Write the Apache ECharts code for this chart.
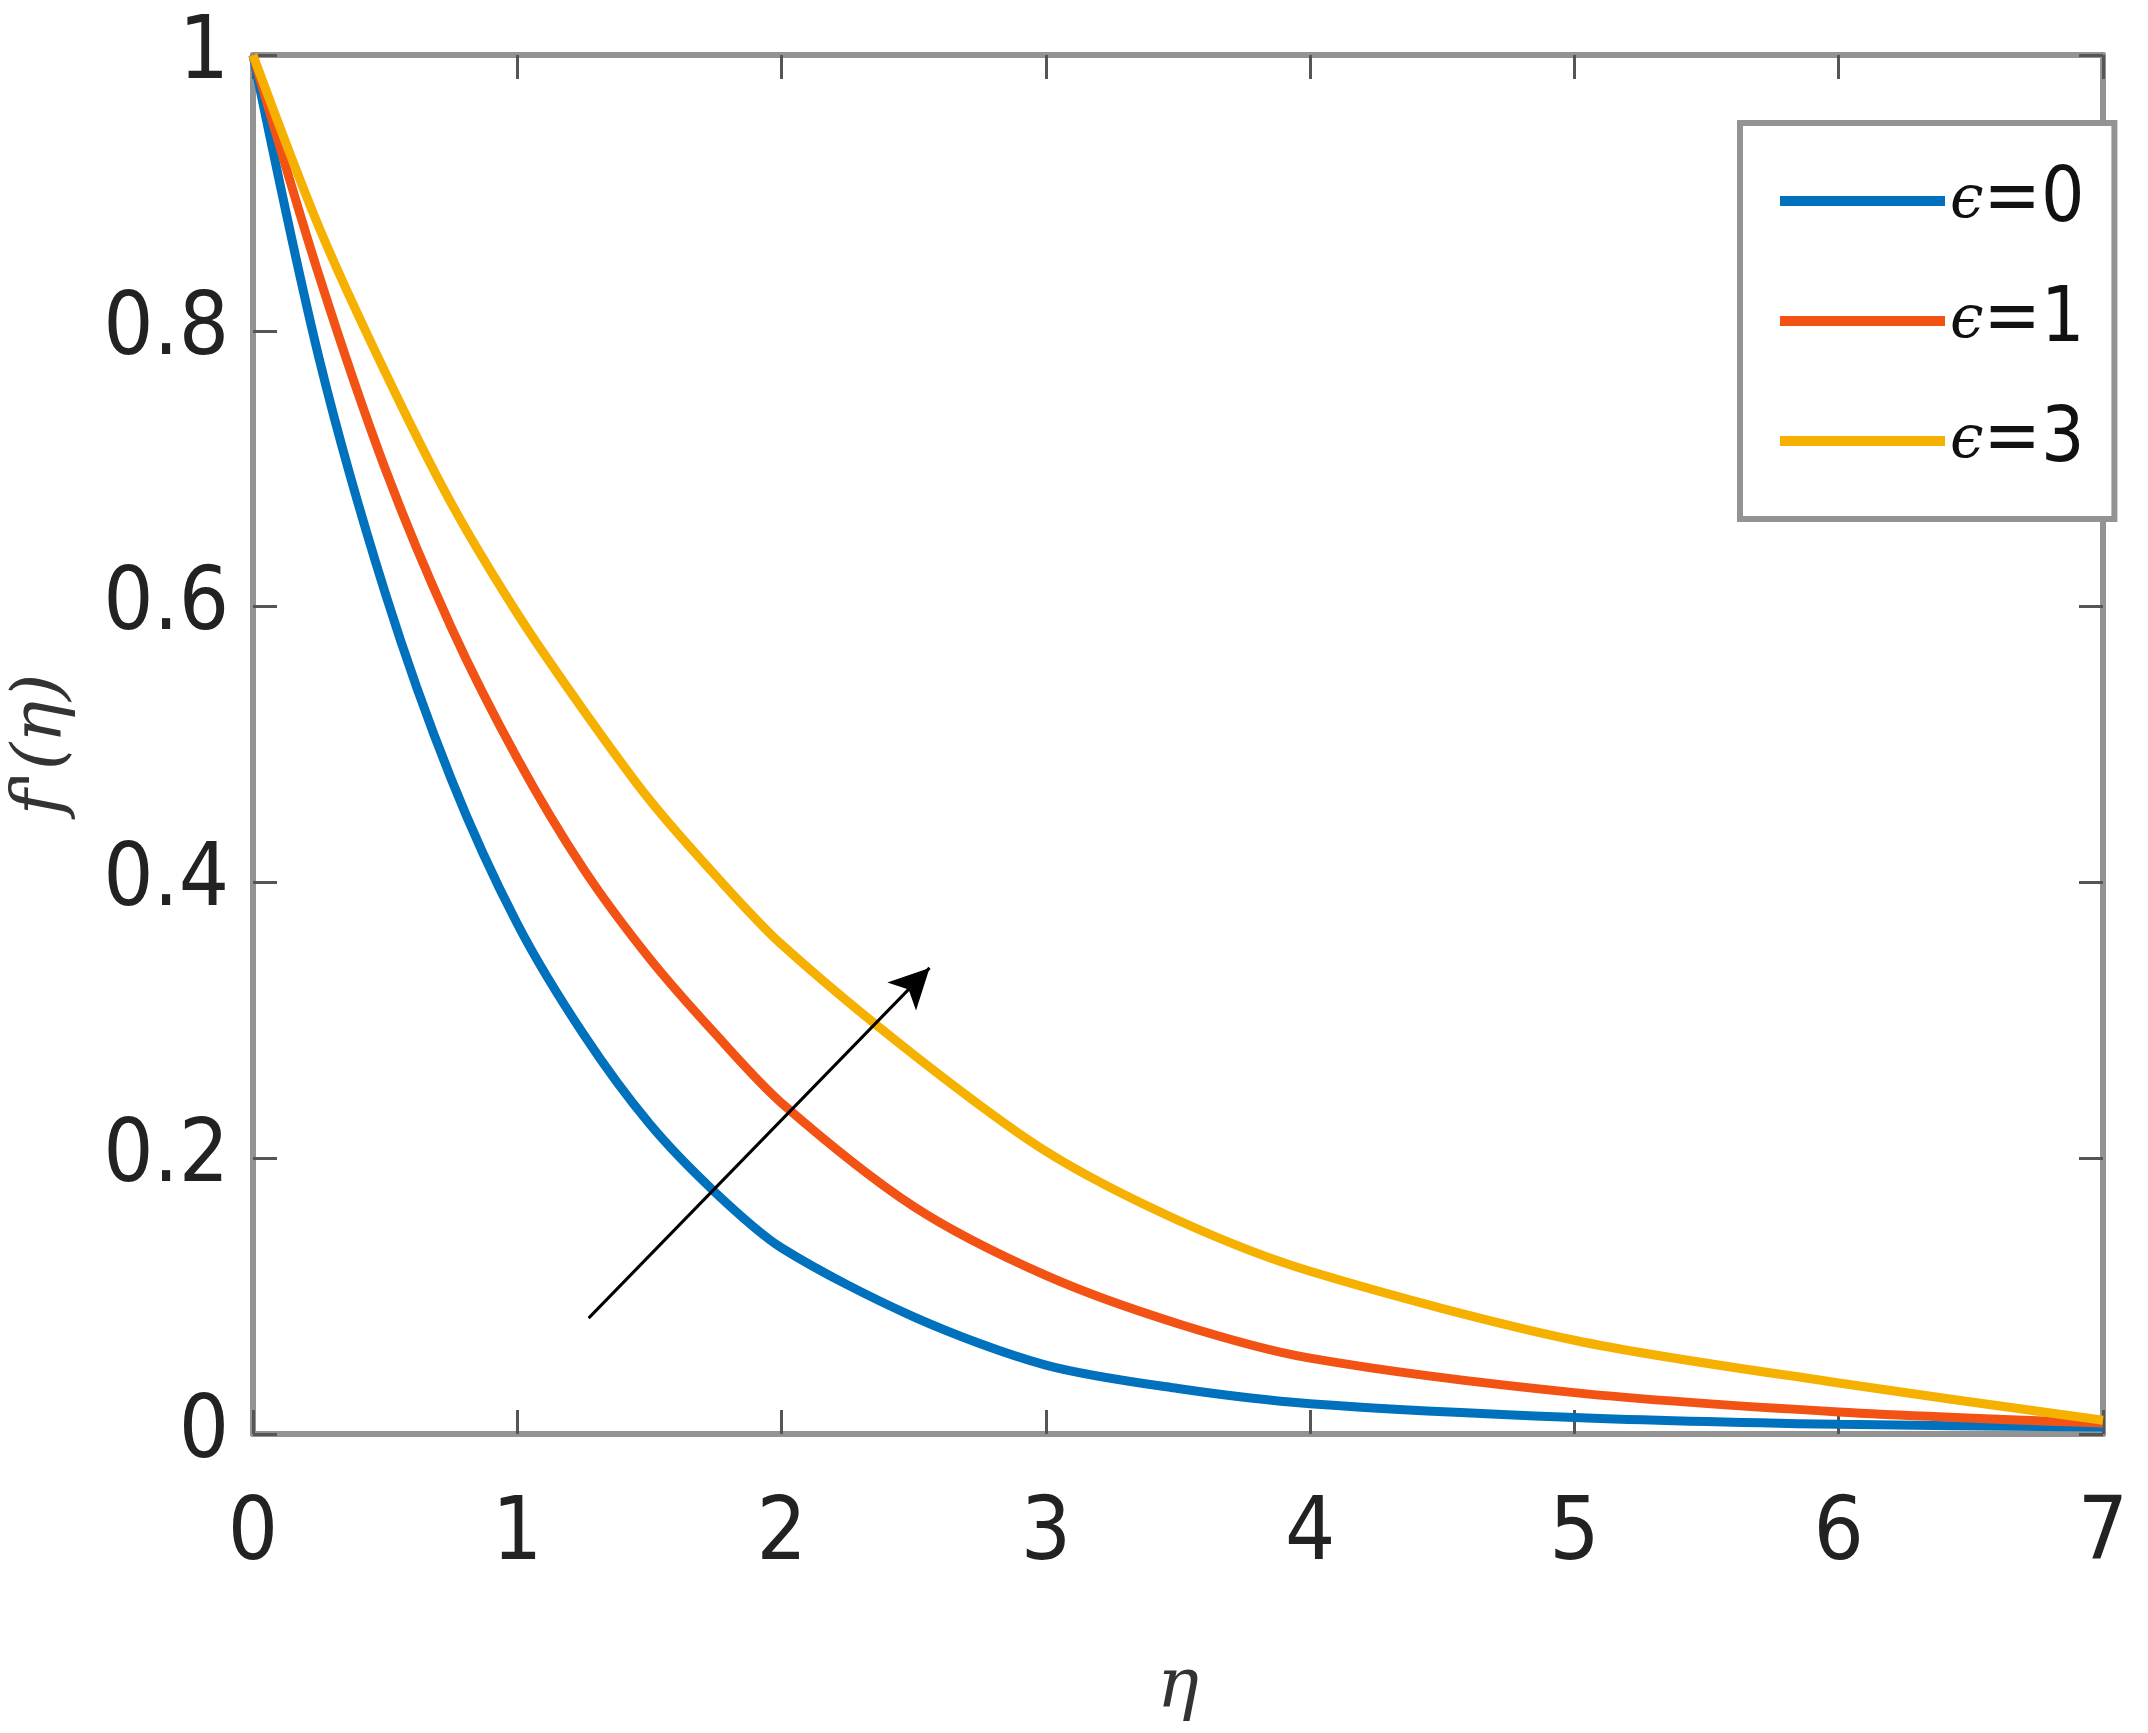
<!DOCTYPE html>
<html>
<head>
<meta charset="utf-8">
<title>f'(eta)</title>
<script src="https://cdn.jsdelivr.net/npm/echarts@6/dist/echarts.min.js"></script>
</head>
<body style="margin:0">
<div id="main" style="width:2148px;height:1733px;"></div>
<script type="text/javascript">
var etaVals = [0, 0.25, 0.5, 0.75, 1, 1.25, 1.5, 1.75, 2, 2.5, 3, 3.5, 4, 5, 6, 7];
var eps0 = [1, 0.78, 0.61, 0.475, 0.37, 0.29, 0.225, 0.175, 0.135, 0.085, 0.05, 0.033, 0.022, 0.012, 0.007, 0.005];
var eps1 = [1, 0.84, 0.70, 0.585, 0.49, 0.41, 0.345, 0.29, 0.24, 0.165, 0.115, 0.08, 0.055, 0.03, 0.016, 0.008];
var eps3 = [1, 0.875, 0.77, 0.675, 0.595, 0.525, 0.46, 0.405, 0.355, 0.275, 0.205, 0.155, 0.118, 0.068, 0.037, 0.01];
var seriesNames = ['ϵ=0', 'ϵ=1', 'ϵ=3'];
var colors = ['#0072BD', '#F25314', '#F5B000'];
var arrowFrom = [1.27, 0.084];
var arrowTo = [2.56, 0.338];

function pairs(ys) {
  return etaVals.map(function (x, i) { return [x, ys[i]]; });
}

var myChart = echarts.init(document.getElementById('main'));
var narrow = 'DejaVu Sans Condensed, Liberation Sans Narrow, Roboto Condensed, Liberation Sans, sans-serif';
var labelFont = { fontFamily: narrow, fontSize: 88, color: '#222' };

var axisCommon = {
  axisLine: { show: true, onZero: false, lineStyle: { color: '#939393', width: 6 } },
  axisTick: { show: true, inside: true, length: 24, lineStyle: { color: '#555', width: 3 } },
  splitLine: { show: false }
};

var series = [eps0, eps1, eps3].map(function (d, i) {
  return {
    name: seriesNames[i], type: 'line', data: pairs(d), smooth: 0.3,
    showSymbol: false, lineStyle: { color: colors[i], width: 9 }, itemStyle: { color: colors[i] }
  };
});
series[0].markLine = {
  silent: true, symbol: ['none', 'arrow'], symbolSize: [30, 40],
  label: { show: false },
  lineStyle: { color: '#000', width: 3, type: 'solid' },
  data: [[{ coord: arrowFrom }, { coord: arrowTo }]]
};
// mirrored top/right axes
series.push({ type: 'line', xAxisIndex: 1, yAxisIndex: 1, data: [] });

myChart.setOption({
  animation: false,
  backgroundColor: '#fff',
  grid: { left: 240, top: 55, right: 45, bottom: 299 },
  legend: {
    orient: 'vertical', left: 1740, top: 123,
    padding: [40, 30, 40, 40], itemGap: 44, itemWidth: 165, itemHeight: 10,
    borderColor: '#939393', borderWidth: 6, backgroundColor: '#fff',
    icon: 'rect',
    data: seriesNames,
    formatter: function (n) { return '{e|ϵ}' + n.slice(1); },
    textStyle: {
      fontFamily: narrow, fontSize: 76, color: '#111',
      rich: { e: { fontFamily: 'DejaVu Serif, serif', fontStyle: 'italic', fontSize: 60, color: '#111' } }
    }
  },
  xAxis: [
    Object.assign({
      type: 'value', min: 0, max: 7, interval: 1,
      name: 'η', nameLocation: 'middle', nameGap: 220,
      nameTextStyle: { fontFamily: 'DejaVu Serif, serif', fontStyle: 'italic', fontSize: 70, color: '#333' },
      axisLabel: Object.assign({ margin: 58 }, labelFont)
    }, axisCommon),
    Object.assign({
      type: 'value', min: 0, max: 7, interval: 1, position: 'top',
      axisLabel: { show: false }
    }, axisCommon)
  ],
  yAxis: [
    Object.assign({
      type: 'value', min: 0, max: 1, interval: 0.2,
      name: "f'(η)", nameLocation: 'middle', nameGap: 175,
      nameTextStyle: { fontFamily: 'DejaVu Serif, serif', fontStyle: 'italic', fontSize: 70, color: '#333' },
      axisLabel: Object.assign({ margin: 24, formatter: function (v) { return String(+v.toFixed(1)); } }, labelFont)
    }, axisCommon),
    Object.assign({
      type: 'value', min: 0, max: 1, interval: 0.2, position: 'right',
      axisLabel: { show: false }
    }, axisCommon)
  ],
  series: series
});
</script>
</body>
</html>
